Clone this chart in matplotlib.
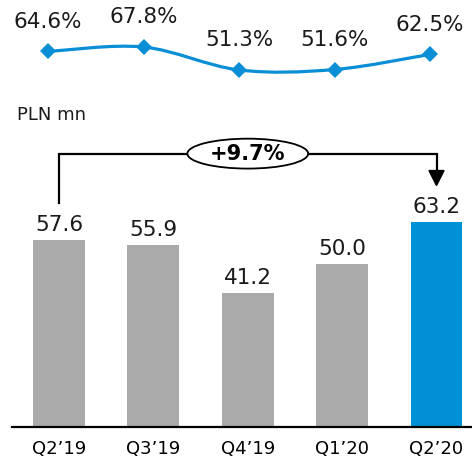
import matplotlib
matplotlib.use("Agg")
import matplotlib.pyplot as plt
from matplotlib.path import Path
from matplotlib.patches import PathPatch, Ellipse, Polygon

# Data
quarters = ["Q2\u201919", "Q3\u201919", "Q4\u201919", "Q1\u201920", "Q2\u201920"]
revenue = [57.6, 55.9, 41.2, 50.0, 63.2]          # PLN mn
ratio = [64.6, 67.8, 51.3, 51.6, 62.5]            # %
change_label = "+9.7%"

GREY = "#aaaaaa"
BLUE = "#0090d6"
LINE_BLUE = "#0a8fd6"

W, H = 472, 457
fig = plt.figure(figsize=(W / 100, H / 100), dpi=100)
plt.rcParams["font.family"] = ["DejaVu Sans"]


def fx(px):
    return px / W


def fy(py):
    return 1 - py / H


# ---- bar panel ----
ax = fig.add_axes([fx(12), fy(427), fx(460), (427 - 100) / H])
xs = list(range(len(revenue)))
colors = [GREY] * (len(revenue) - 1) + [BLUE]
ax.bar(xs, revenue, width=0.55, color=colors, zorder=2)
ax.set_xlim(-0.498, 4.376)
ax.set_ylim(0, 100.6)
ax.set_xticks(xs)
ax.set_xticklabels(quarters, fontsize=13)
ax.tick_params(axis="x", length=0, pad=9)
ax.set_yticks([])
for side in ("top", "left", "right"):
    ax.spines[side].set_visible(False)
ax.spines["bottom"].set_linewidth(1.6)
ax.spines["bottom"].set_color("black")

for x, v in zip(xs, revenue):
    ax.annotate(f"{v:.1f}", xy=(x, v), xytext=(0, 6.5), textcoords="offset points",
                ha="center", va="baseline", fontsize=15.5, color="#1a1a1a")

# growth bracket from first to last quarter
top = max(revenue) + 20.9
left_end = revenue[0] + 11.4
tip = revenue[-1] + 11.1
x0, x1 = xs[0], xs[-1]
head_h = 4.6
head_w = 0.08
ax.plot([x0, x0, x1, x1], [left_end, top, top, tip + head_h],
        color="black", lw=1.6, solid_joinstyle="miter", zorder=3)
ax.add_patch(Polygon([[x1 - head_w, tip + head_h], [x1 + head_w, tip + head_h], [x1, tip]],
                     closed=True, color="black", zorder=3))
xmid = (x0 + x1) / 2
ax.add_patch(Ellipse((xmid, top), width=1.28, height=9.2, facecolor="white",
                     edgecolor="black", lw=1.3, zorder=4))
ax.text(xmid, top, change_label, ha="center", va="center", fontsize=15,
        fontweight="bold", zorder=5)

fig.text(fx(17), fy(115), "PLN mn", fontsize=13, va="center", ha="left", color="#1a1a1a")

# ---- ratio line panel ----
lax = fig.add_axes([0, fy(100), 1, 100 / H])
lax.set_xlim(-48 / 95.5, (472 - 48) / 95.5)
lax.set_ylim(29.7, 101.6)
lax.axis("off")

pts = list(zip(range(len(ratio)), ratio))
verts = [pts[0]]
codes = [Path.MOVETO]
for i in range(len(pts) - 1):
    p0 = pts[i - 1] if i > 0 else pts[i]
    p1 = pts[i]
    p2 = pts[i + 1]
    p3 = pts[i + 2] if i + 2 < len(pts) else pts[i + 1]
    c1 = (p1[0] + (p2[0] - p0[0]) / 6, p1[1] + (p2[1] - p0[1]) / 6)
    c2 = (p2[0] - (p3[0] - p1[0]) / 6, p2[1] - (p3[1] - p1[1]) / 6)
    verts += [c1, c2, p2]
    codes += [Path.CURVE4] * 3
lax.add_patch(PathPatch(Path(verts, codes), facecolor="none", edgecolor=LINE_BLUE,
                        lw=2.3, zorder=2))
lax.plot(range(len(ratio)), ratio, linestyle="none", marker="D", markersize=8.6,
         color=LINE_BLUE, mew=0, zorder=3)
for i, v in enumerate(ratio):
    lax.annotate(f"{v:.1f}%", xy=(i, v), xytext=(0, 17), textcoords="offset points",
                 ha="center", va="baseline", fontsize=15.5, color="#1a1a1a")

fig.savefig("out.png", dpi=100)
